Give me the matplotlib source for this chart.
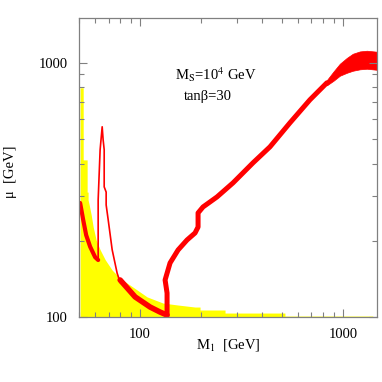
import matplotlib
matplotlib.use("Agg")
import matplotlib.pyplot as plt
from matplotlib.ticker import LogLocator, NullFormatter, FixedLocator, FixedFormatter

plt.rcParams['font.family'] = ['Liberation Serif', 'DejaVu Serif']
plt.rcParams['mathtext.fontset'] = 'stix'

# excluded region (yellow), upper boundary
yellow_m1 = [50.6, 52.4, 52.4, 54.8, 54.8, 55.4, 55.4, 56.1, 57.4, 58.7, 60.7, 63.5,
             67.3, 72.8, 79.7, 92.4, 108.3, 129.8, 153.9, 186.6, 197.5, 197.5,
             262.3, 262.3, 517.8, 517.8, 1405]
yellow_mu = [797, 797, 415, 415, 310, 310, 289, 276, 252, 226, 201, 184,
             168, 153, 142, 131, 120, 113.5, 111.5, 109.5, 109.5, 106.6,
             106.6, 103.7, 103.7, 100.9, 100.9]

# red: left branch
left_m1 = [50.6, 52.4, 54.2, 56.7, 60.0, 62.1]
left_mu = [281, 241, 210, 189, 172, 167.6]

# red: narrow spike near the Z pole
spike_m1 = [62.1, 62.1, 63.5, 65.0, 65.7, 66.5, 66.5, 68.0, 68.0, 69.6, 72.8, 77.0, 79.7]
spike_mu = [167.6, 289, 455, 560, 498, 455, 325, 310, 276, 241, 184, 149, 137]

# red: lower band towards the h pole
low_m1 = [79.7, 94.5, 112.0, 125.5, 135.8]
low_mu = [139.9, 120, 109.5, 104.6, 101.8]

# red: right branch
right_m1 = [135.8, 135.8, 132.8, 140.5, 153.9, 170.4, 186.6, 193.1, 193.1, 204.3,
            239.5, 287.2, 360.3, 436.9, 548.2, 687.8, 834]
right_mu = [101.8, 124.3, 139.9, 163.2, 183.6, 201, 214.1, 226, 256.7, 271,
            296.8, 337, 404, 467, 580.5, 715, 834]

# red: wide end of the right branch
end_m1 = [834, 900, 966, 1046, 1120, 1213, 1313, 1471]
end_hi = [855, 925, 991, 1045, 1085, 1108, 1115, 1105]
end_lo = [815, 850, 889, 913, 930, 942, 947, 938]

fig = plt.figure(figsize=(3.82, 3.82), dpi=100)
ax = fig.add_axes([0.207, 0.170, 0.781, 0.783])

ax.fill_between(yellow_m1, 100, yellow_mu, color='#ffff00', lw=0)
ax.plot(left_m1, left_mu, color='red', lw=3.0, solid_capstyle='round')
ax.plot(spike_m1, spike_mu, color='red', lw=1.2)
ax.plot(low_m1, low_mu, color='red', lw=4.0, solid_capstyle='round')
ax.plot(right_m1, right_mu, color='red', lw=3.6, solid_capstyle='round')
ax.fill_between(end_m1, end_lo, end_hi, color='red', lw=0.5, edgecolor='red')

ax.set_xscale('log')
ax.set_yscale('log')
ax.set_xlim(50, 1480)
ax.set_ylim(100, 1500)

ax.xaxis.set_major_locator(FixedLocator([100, 1000]))
ax.xaxis.set_major_formatter(FixedFormatter(['100', '1000']))
ax.yaxis.set_major_locator(FixedLocator([100, 1000]))
ax.yaxis.set_major_formatter(FixedFormatter(['100', '1000']))
ax.xaxis.set_minor_locator(LogLocator(base=10, subs=range(2, 10)))
ax.yaxis.set_minor_locator(LogLocator(base=10, subs=range(2, 10)))
ax.xaxis.set_minor_formatter(NullFormatter())
ax.yaxis.set_minor_formatter(NullFormatter())

ax.tick_params(which='both', direction='in', top=True, right=True,
               color='#808080', labelsize=10.5, width=0.8)
ax.tick_params(which='major', length=6, pad=8)
ax.tick_params(which='minor', length=3.5)
for s in ax.spines.values():
    s.set_color('#808080')
    s.set_linewidth(0.9)

ax.text(0.459, 0.809, r'M$_\mathrm{S}$=10$^4$ GeV', transform=ax.transAxes,
        ha='center', va='center', fontsize=10.5)
ax.text(0.432, 0.739, 'tanβ=30', transform=ax.transAxes,
        ha='center', va='center', fontsize=10.5)

fig.text(0.597, 0.097, r'M$_1$  [GeV]', ha='center', va='center', fontsize=10.5)
fig.text(0.027, 0.55, 'μ  [GeV]', ha='center', va='center', rotation=90, fontsize=10.5)

fig.savefig('out.png', dpi=100)
